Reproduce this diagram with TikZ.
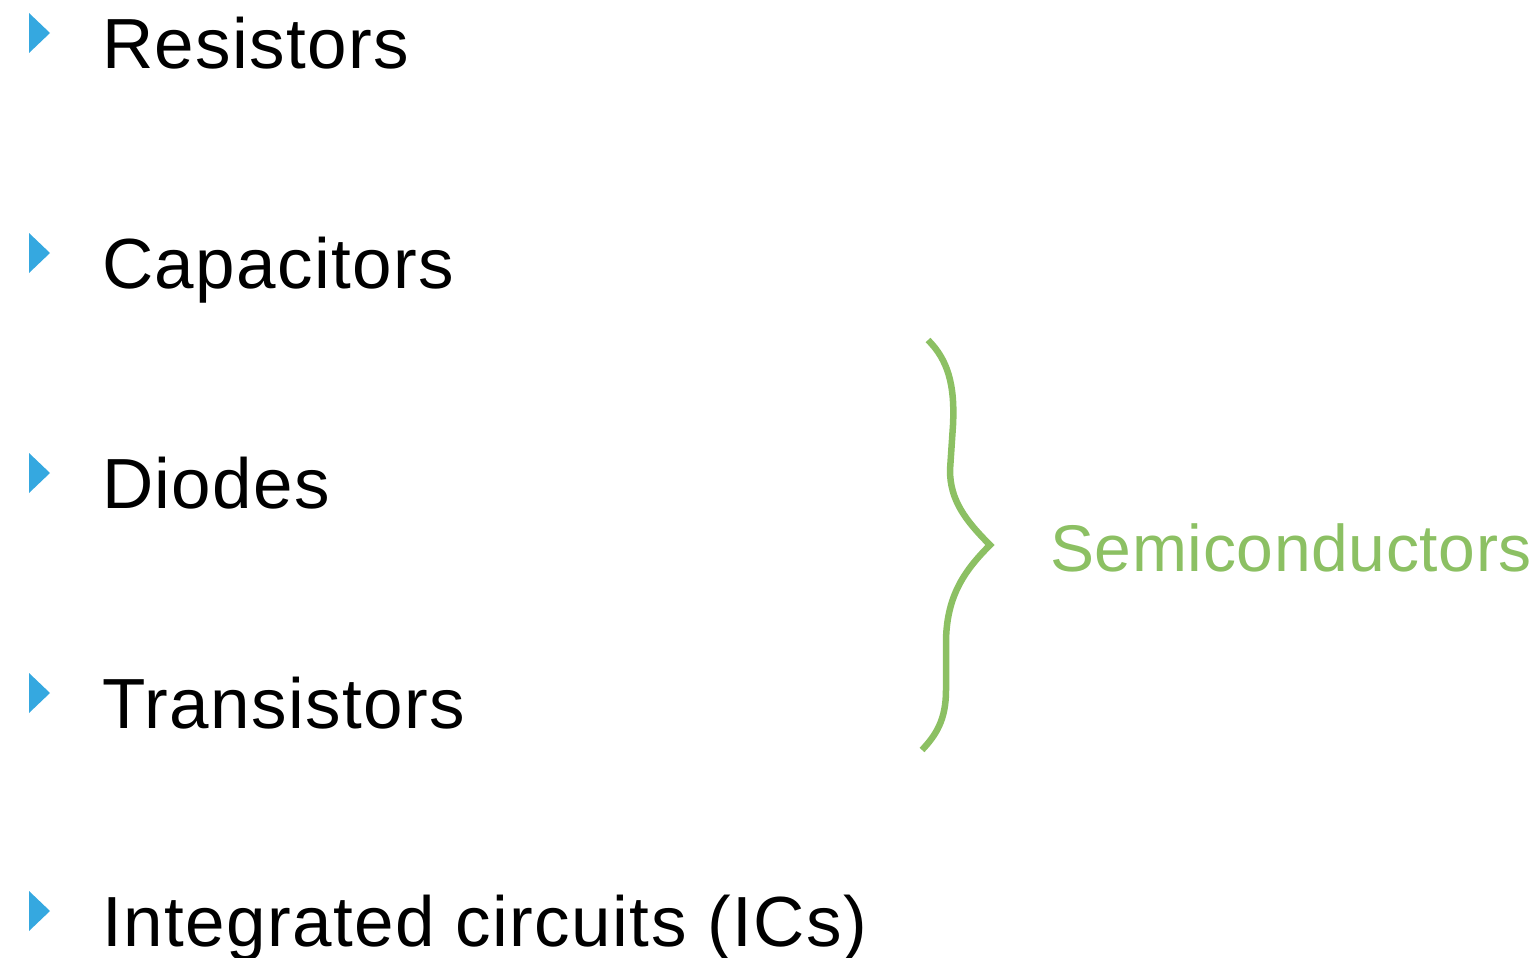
\documentclass[tikz,border=0pt]{standalone}
\usepackage{fontspec}
\setmainfont{Liberation Sans}
\newfontfamily\itemfont[LetterSpace=2]{Liberation Sans}
\newfontfamily\semifont[LetterSpace=1]{Liberation Sans}
\definecolor{bulletblue}{HTML}{35A8E0}
\definecolor{semigreen}{HTML}{8CC063}
\begin{document}
\begin{tikzpicture}[x=1pt,y=-1pt,
  item/.style={anchor=base west,inner sep=0pt,font=\itemfont\fontsize{71}{80}\selectfont,text=black},
  semi/.style={anchor=base west,inner sep=0pt,font=\semifont\fontsize{66}{74}\selectfont,text=semigreen},
  bracepath/.style={draw=semigreen,line width=6.5pt,line cap=butt}]
\useasboundingbox (0,0) rectangle (1539,958);
\foreach \y/\t/\n in {68/Resistors/a,288/Capacitors/b,508/Diodes/c,728/Transistors/d,946/Integrated circuits (ICs)/e}{
  \fill[bulletblue] (29,\y-55) -- (50,\y-35) -- (29,\y-15) -- cycle;
  \node[item] (\n) at (102,\y) {\t};
}
\draw[bracepath] (928,340) .. controls (948,360) and (955,385) .. (953,425)
  -- (950,470) .. controls (950,500) and (965,520) .. (990,545)
  .. controls (965,570) and (947,595) .. (946,640)
  -- (946,690) .. controls (946,720) and (936,735) .. (922,750);
\node[semi] (s) at (1050,571) {Semiconductors};
\end{tikzpicture}
\end{document}
